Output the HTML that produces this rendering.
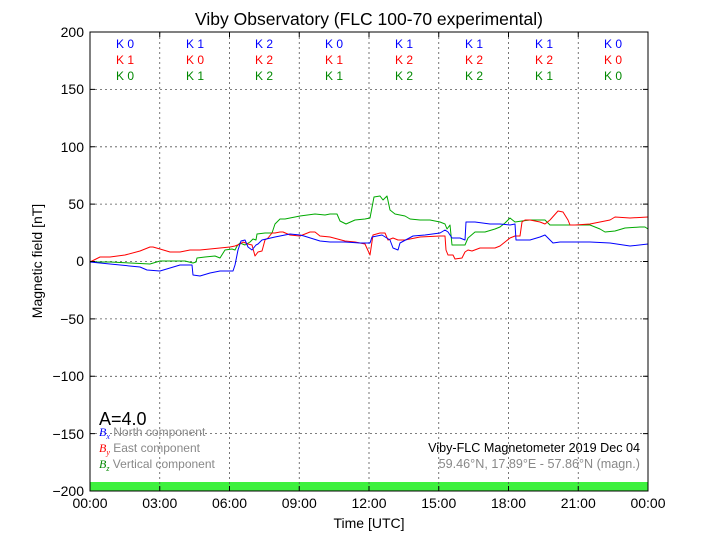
<!DOCTYPE html>
<html><head><meta charset="utf-8"><style>
html,body{margin:0;padding:0;background:#fff}
svg{display:block;font-family:"Liberation Sans",sans-serif}
</style></head><body>
<svg width="720" height="540" viewBox="0 0 720 540">
<rect width="720" height="540" fill="#fff"/>
<text x="369" y="25" font-size="17.5" text-anchor="middle">Viby Observatory (FLC 100-70 experimental)</text>
<rect x="90" y="482" width="558" height="9" fill="#3ef03e"/>
<g stroke="#555" stroke-width="0.8" stroke-dasharray="2,3">
<line x1="159.75" y1="32" x2="159.75" y2="491"/><line x1="229.5" y1="32" x2="229.5" y2="491"/>
<line x1="299.25" y1="32" x2="299.25" y2="491"/><line x1="369" y1="32" x2="369" y2="491"/>
<line x1="438.75" y1="32" x2="438.75" y2="491"/><line x1="508.5" y1="32" x2="508.5" y2="491"/>
<line x1="578.25" y1="32" x2="578.25" y2="491"/>
<line x1="90" y1="89.4" x2="648" y2="89.4"/><line x1="90" y1="146.8" x2="648" y2="146.8"/>
<line x1="90" y1="204.1" x2="648" y2="204.1"/><line x1="90" y1="261.5" x2="648" y2="261.5"/>
<line x1="90" y1="318.9" x2="648" y2="318.9"/><line x1="90" y1="376.3" x2="648" y2="376.3"/>
<line x1="90" y1="433.6" x2="648" y2="433.6"/>
</g>
<g fill="none" stroke-width="1" stroke-linejoin="round">
<polyline stroke="#0a0" points="90,262 110,262 130,263 150,264 160,261 170,261 185,261 193,263 196,262 197,258 205,257 215,256 220,258 225,250 232,249 235,250 237,246 240,243 245,245 250,242 253,239 256,240 257,234 265,233 272,233 275,224 280,219 285,219 300,216 315,214 325,215 330,214 337,214 340,221 346,224 355,220 365,219 370,218 374,197 380,196 383,200 387,196 390,210 395,214 405,216 410,219 420,220 430,220 440,222 445,224 447,229 450,225 452,245 460,245 465,245 468,238 475,232 485,232 495,229 500,227 505,223 510,218 515,222 522,221 530,220 540,220 545,220 550,225 560,225 575,225 590,225 600,229 605,232 615,231 625,228 640,227 645,227 648,229"/>
<polyline stroke="#f00" points="90,262 100,257 110,257 125,255 140,251 150,247 153,247 160,249 170,252 180,252 190,250 200,250 210,249 220,248 230,247 235,246 240,244 243,242 248,244 252,245 255,256 258,252 262,251 265,240 268,238 272,233 275,233 280,232 283,232 290,235 300,236 310,232 315,232 320,236 330,237 345,241 355,242 365,244 370,255 373,235 380,233 385,233 388,240 393,238 398,240 405,240 420,237 440,236 445,236 446,250 448,255 453,255 455,259 462,258 465,252 468,250 472,251 480,248 490,248 495,248 500,246 505,242 510,238 515,236 520,236 522,222 525,220 530,220 540,222 545,224 550,220 558,211 563,212 568,220 570,225 575,225 590,224 600,222 610,220 615,217 630,218 648,217"/>
<polyline stroke="#00f" points="90,262 110,264 140,267 147,270 160,271 170,268 180,265 192,265 193,275 200,276 210,273 220,271 233,271 235,265 238,250 241,241 245,240 248,247 252,250 256,245 258,244 262,240 275,237 290,234 300,235 304,236 320,241 330,242 345,242 360,243 370,243 372,237 382,235 390,240 393,248 398,250 400,243 413,236 425,235 440,233 445,230 448,232 452,238 460,238 465,240 466,222 475,222 490,224 500,224 510,225 515,224 516,240 530,240 540,237 545,235 550,240 553,243 560,242 575,242 590,242 610,243 630,246 648,244"/>
</g>
<rect x="90" y="32" width="558" height="459" fill="none" stroke="#000" stroke-width="1"/>
<g stroke="#000" stroke-width="1">
<path d="M159.75,491v-5M229.5,491v-5M299.25,491v-5M369,491v-5M438.75,491v-5M508.5,491v-5M578.25,491v-5"/>
<path d="M159.75,32v5M229.5,32v5M299.25,32v5M369,32v5M438.75,32v5M508.5,32v5M578.25,32v5"/>
<path d="M90,89.4h5M90,146.8h5M90,204.1h5M90,261.5h5M90,318.9h5M90,376.3h5M90,433.6h5"/>
<path d="M648,89.4h-5M648,146.8h-5M648,204.1h-5M648,261.5h-5M648,318.9h-5M648,376.3h-5M648,433.6h-5"/>
</g>
<g font-size="14" text-anchor="end">
<text x="84" y="37">200</text><text x="84" y="94">150</text><text x="84" y="152">100</text>
<text x="84" y="209">50</text><text x="84" y="266">0</text><text x="84" y="324">−50</text>
<text x="84" y="381">−100</text><text x="84" y="439">−150</text><text x="84" y="496">−200</text>
</g>
<g font-size="14" text-anchor="middle">
<text x="90" y="508">00:00</text><text x="159.75" y="508">03:00</text><text x="229.5" y="508">06:00</text>
<text x="299.25" y="508">09:00</text><text x="369" y="508">12:00</text><text x="438.75" y="508">15:00</text>
<text x="508.5" y="508">18:00</text><text x="578.25" y="508">21:00</text><text x="648" y="508">00:00</text>
<text x="369" y="528">Time [UTC]</text>
</g>
<text transform="translate(42,261) rotate(-90)" font-size="14" text-anchor="middle">Magnetic field [nT]</text>
<g font-size="12" text-anchor="middle">
<g fill="#00f"><text x="125" y="48">K 0</text><text x="195" y="48">K 1</text><text x="264" y="48">K 2</text><text x="334" y="48">K 0</text><text x="404" y="48">K 1</text><text x="474" y="48">K 1</text><text x="544" y="48">K 1</text><text x="613" y="48">K 0</text></g>
<g fill="#f00"><text x="125" y="64">K 1</text><text x="195" y="64">K 0</text><text x="264" y="64">K 2</text><text x="334" y="64">K 1</text><text x="404" y="64">K 2</text><text x="474" y="64">K 2</text><text x="544" y="64">K 2</text><text x="613" y="64">K 0</text></g>
<g fill="#080"><text x="125" y="80">K 0</text><text x="195" y="80">K 1</text><text x="264" y="80">K 2</text><text x="334" y="80">K 1</text><text x="404" y="80">K 2</text><text x="474" y="80">K 2</text><text x="544" y="80">K 1</text><text x="613" y="80">K 0</text></g>
</g>
<text x="99" y="425" font-size="18">A=4.0</text>
<g font-size="12" fill="#888">
<text x="99" y="436"><tspan fill="#00f" font-family="Liberation Serif" font-style="italic">B<tspan font-size="8" dy="3">x</tspan></tspan><tspan dy="-3"> North component</tspan></text>
<text x="99" y="452"><tspan fill="#f00" font-family="Liberation Serif" font-style="italic">B<tspan font-size="8" dy="3">y</tspan></tspan><tspan dy="-3"> East component</tspan></text>
<text x="99" y="468"><tspan fill="#080" font-family="Liberation Serif" font-style="italic">B<tspan font-size="8" dy="3">z</tspan></tspan><tspan dy="-3"> Vertical component</tspan></text>
</g>
<text x="640" y="452" font-size="12.6" text-anchor="end">Viby-FLC Magnetometer 2019 Dec 04</text>
<text x="640" y="468" font-size="12.6" text-anchor="end" fill="#888">59.46°N, 17.89°E - 57.86°N (magn.)</text>
</svg>
</body></html>
